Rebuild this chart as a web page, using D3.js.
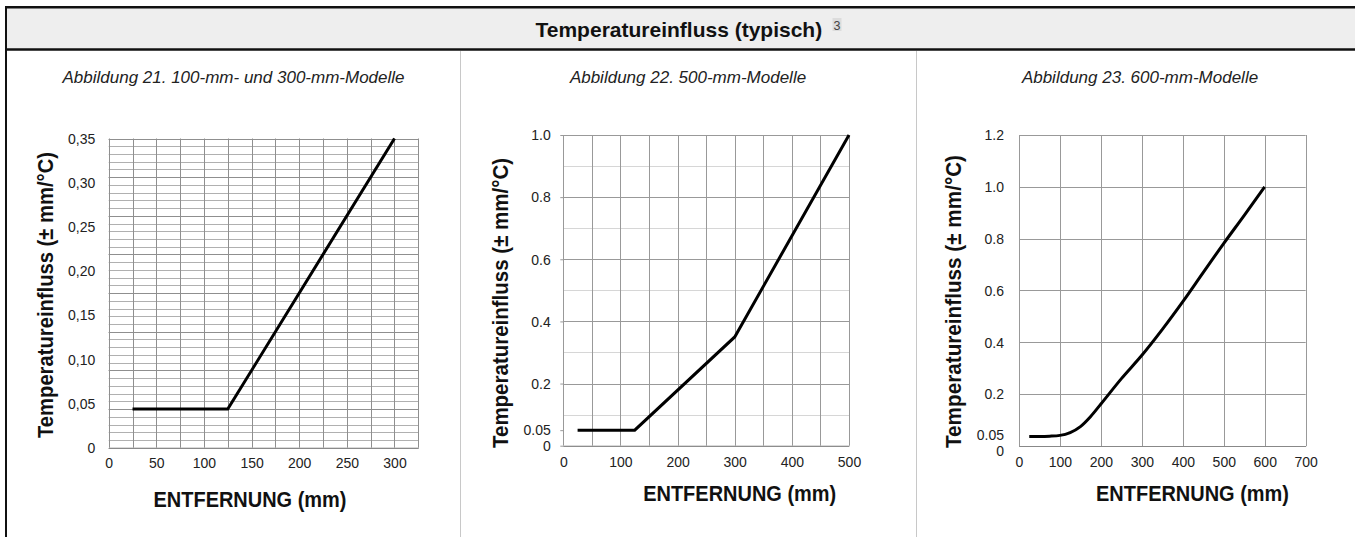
<!DOCTYPE html>
<html><head><meta charset="utf-8">
<script src="https://cdn.jsdelivr.net/npm/d3@7"></script>
<style>
body{margin:0;background:#fff;}
svg{display:block;}
text{font-family:"Liberation Sans",Arial,Helvetica,sans-serif;}
</style>
</head><body>
<svg id="c" width="1355" height="537"></svg>
<script>
// ---------- text ----------
const titleText = "Temperatureinfluss (typisch)";
const titleSup = "3";
const subtitles = ["Abbildung 21. 100-mm- und 300-mm-Modelle", "Abbildung 22. 500-mm-Modelle", "Abbildung 23. 600-mm-Modelle"];
const xAxisTitle = "ENTFERNUNG (mm)";
const yAxisTitle = "Temperatureinfluss (± mm/°C)";

// ---------- chart 1 data (100-mm / 300-mm models) ----------
const c1Dist = [25, 125, 300];
const c1Val = [0.04375, 0.04375, 0.35];
const c1XTicks = [0, 50, 100, 150, 200, 250, 300];
const c1YTicks = [0, 0.05, 0.10, 0.15, 0.20, 0.25, 0.30, 0.35];
const c1YLabels = ["0", "0,05", "0,10", "0,15", "0,20", "0,25", "0,30", "0,35"];

// ---------- chart 2 data (500-mm models) ----------
const c2Dist = [25, 125, 300, 500];
const c2Val = [0.05, 0.05, 0.35, 1.0];
const c2XTicks = [0, 100, 200, 300, 400, 500];
const c2YTicks = [0, 0.05, 0.2, 0.4, 0.6, 0.8, 1.0];
const c2YLabels = ["0", "0.05", "0.2", "0.4", "0.6", "0.8", "1.0"];

// ---------- chart 3 data (600-mm models) ----------
const c3Dist = [25, 50, 75, 100, 125, 150, 175, 200, 250, 300, 350, 400, 450, 500, 550, 600];
const c3Val = [0.037, 0.037, 0.038, 0.041, 0.052, 0.075, 0.114, 0.162, 0.26, 0.35, 0.45, 0.557, 0.67, 0.782, 0.89, 1.0];
const c3XTicks = [0, 100, 200, 300, 400, 500, 600, 700];
const c3YTicks = [0, 0.05, 0.2, 0.4, 0.6, 0.8, 1.0, 1.2];
const c3YLabels = ["0", "0.05", "0.2", "0.4", "0.6", "0.8", "1.0", "1.2"];

// ---------- layout ----------
const svg = d3.select("#c");
const W = 1355, H = 537;

// header
svg.append("rect").attr("x", 6).attr("y", 7).attr("width", W).attr("height", 42.5).attr("fill", "#eeeeee");
svg.append("line").attr("x1", 5).attr("x2", W).attr("y1", 7.25).attr("y2", 7.25).attr("stroke", "#111").attr("stroke-width", 2.5);
svg.append("line").attr("x1", 5).attr("x2", W).attr("y1", 49.6).attr("y2", 49.6).attr("stroke", "#111").attr("stroke-width", 2.5);
svg.append("line").attr("x1", 6).attr("x2", 6).attr("y1", 6).attr("y2", H).attr("stroke", "#111").attr("stroke-width", 2);
// column separators
[460.5, 916.5].forEach(x => {
  svg.append("line").attr("x1", x).attr("x2", x).attr("y1", 51).attr("y2", H).attr("stroke", "#c8c8c8").attr("stroke-width", 1);
});

const tt = svg.append("text").attr("x", 535.5).attr("y", 36.7)
  .attr("font-size", 21).attr("font-weight", "bold").attr("fill", "#111").text(titleText);
svg.append("rect").attr("x", 832.5).attr("y", 18).attr("width", 9).attr("height", 13).attr("fill", "#dcdcdc");
svg.append("text").attr("x", 837).attr("y", 29.5).attr("text-anchor", "middle")
  .attr("font-size", 12.5).attr("fill", "#444").text(titleSup);

const subCenters = [233.5, 688, 1140];
subtitles.forEach((s, i) => {
  svg.append("text").attr("x", subCenters[i]).attr("y", 83).attr("text-anchor", "middle")
    .attr("font-size", 17).attr("font-style", "italic").attr("fill", "#222").text(s);
});

// ---------- chart builder ----------
function drawChart(cfg) {
  const x = d3.scaleLinear().domain(cfg.xDomain).range([cfg.left, cfg.right]);
  const y = d3.scaleLinear().domain(cfg.yDomain).range([cfg.bottom, cfg.top]);
  const g = svg.append("g");

  // minor horizontal grid
  if (cfg.yMinorStep) {
    const n = Math.round((cfg.yDomain[1] - cfg.yDomain[0]) / cfg.yMinorStep);
    g.append("g").selectAll("line").data(d3.range(0, n + 1).map(k => cfg.yDomain[0] + k * cfg.yMinorStep))
      .join("line")
      .attr("x1", x(cfg.xDomain[0])).attr("x2", x(cfg.xDomain[1]))
      .attr("y1", d => Math.round(y(d)) + 0.5).attr("y2", d => Math.round(y(d)) + 0.5)
      .attr("stroke", cfg.minorColor).attr("stroke-width", 1);
  }
  // major horizontal grid
  const nM = Math.round((cfg.yDomain[1] - cfg.yDomain[0]) / cfg.yMajorStep);
  g.append("g").selectAll("line").data(d3.range(0, nM + 1).map(k => cfg.yDomain[0] + k * cfg.yMajorStep))
    .join("line")
    .attr("x1", x(cfg.xDomain[0])).attr("x2", x(cfg.xDomain[1]))
    .attr("y1", d => Math.round(y(d)) + 0.5).attr("y2", d => Math.round(y(d)) + 0.5)
    .attr("stroke", cfg.majorColor).attr("stroke-width", 1);
  // vertical grid
  g.append("g").selectAll("line").data(d3.range(cfg.xDomain[0], cfg.xDomain[1] + 1, cfg.xGridStep))
    .join("line")
    .attr("x1", d => Math.round(x(d)) + 0.5).attr("x2", d => Math.round(x(d)) + 0.5)
    .attr("y1", y(cfg.yDomain[0])).attr("y2", y(cfg.yDomain[1]))
    .attr("stroke", cfg.majorColor).attr("stroke-width", 1);

  // x axis
  const xa = g.append("g").attr("transform", `translate(0,${cfg.bottom})`)
    .call(d3.axisBottom(x).tickValues(cfg.xTicks).tickSize(0).tickPadding(0));
  xa.select(".domain").attr("stroke", "#888");
  xa.selectAll("text").attr("y", 0).attr("dy", cfg.xLabelDy).attr("font-size", 14)
    .attr("font-family", "Liberation Sans, Arial, sans-serif").attr("fill", "#222");

  // y axis
  const ya = g.append("g").attr("transform", `translate(${cfg.left},0)`)
    .call(d3.axisLeft(y).tickValues(cfg.yTicks).tickSize(cfg.yTickSize)
      .tickPadding(cfg.yLabelGap - cfg.yTickSize)
      .tickFormat((d, i) => cfg.yLabels[i]));
  ya.select(".domain").remove();
  ya.selectAll(".tick line").attr("stroke", "#999");
  ya.selectAll("text").attr("font-size", 14).attr("font-family", "Liberation Sans, Arial, sans-serif")
    .attr("fill", "#222").attr("dy", (d, i) => (0.34 * 14 + (cfg.yLabelShift[i] || 0)) + "px");

  // line
  const pts = cfg.xs.map((d, i) => [d, cfg.ys[i]]);
  g.append("path").datum(pts)
    .attr("d", d3.line().x(d => x(d[0])).y(d => y(d[1])).curve(cfg.curve))
    .attr("fill", "none").attr("stroke", "#000").attr("stroke-width", 3)
    .attr("stroke-linejoin", "miter");

  // axis titles
  g.append("text").attr("x", cfg.xTitleX).attr("y", cfg.xTitleY).attr("text-anchor", "middle")
    .attr("font-size", 22).attr("font-weight", "bold").attr("fill", "#111")
    .attr("textLength", 193).attr("lengthAdjust", "spacingAndGlyphs").text(xAxisTitle);
  g.append("text").attr("transform", `translate(${cfg.yTitleX},${cfg.yTitleY}) rotate(-90)`)
    .attr("text-anchor", "middle").attr("font-size", 22).attr("font-weight", "bold").attr("fill", "#111")
    .attr("textLength", cfg.yTitleLen).attr("lengthAdjust", "spacingAndGlyphs").text(yAxisTitle);
}

drawChart({
  left: 108.7, right: 418.3, top: 138.5, bottom: 447.7,
  xDomain: [0, 325], yDomain: [0, 0.35],
  xGridStep: 25, yMajorStep: 0.35 / 8, yMinorStep: 0.35 / 40,
  majorColor: "#8f8f8f", minorColor: "#b0b0b0",
  xTicks: c1XTicks, yTicks: c1YTicks, yLabels: c1YLabels,
  yTickSize: 0, yLabelGap: 13.5, yLabelShift: [], xLabelDy: "20px",
  xs: c1Dist, ys: c1Val, curve: d3.curveLinear,
  xTitleX: 250, xTitleY: 506.7, yTitleX: 53, yTitleY: 295, yTitleLen: 286
});

drawChart({
  left: 563.3, right: 849, top: 135, bottom: 445.7,
  xDomain: [0, 500], yDomain: [0, 1.0],
  xGridStep: 50, yMajorStep: 0.2, yMinorStep: 0.1,
  majorColor: "#999999", minorColor: "#d6d6d6",
  xTicks: c2XTicks, yTicks: c2YTicks, yLabels: c2YLabels,
  yTickSize: 3, yLabelGap: 12.5, yLabelShift: [], xLabelDy: "21px",
  xs: c2Dist, ys: c2Val, curve: d3.curveLinear,
  xTitleX: 739.7, xTitleY: 501, yTitleX: 508, yTitleY: 303, yTitleLen: 290
});

drawChart({
  left: 1019, right: 1305.7, top: 135, bottom: 446,
  xDomain: [0, 700], yDomain: [0, 1.2],
  xGridStep: 100, yMajorStep: 0.2, yMinorStep: 0,
  majorColor: "#999999", minorColor: "#d6d6d6",
  xTicks: c3XTicks, yTicks: c3YTicks, yLabels: c3YLabels,
  yTickSize: 0, yLabelGap: 15, yLabelShift: [5, 2], xLabelDy: "21px",
  xs: c3Dist, ys: c3Val, curve: d3.curveMonotoneX,
  xTitleX: 1192.5, xTitleY: 501, yTitleX: 961, yTitleY: 301.5, yTitleLen: 293
});
</script>
</body></html>
